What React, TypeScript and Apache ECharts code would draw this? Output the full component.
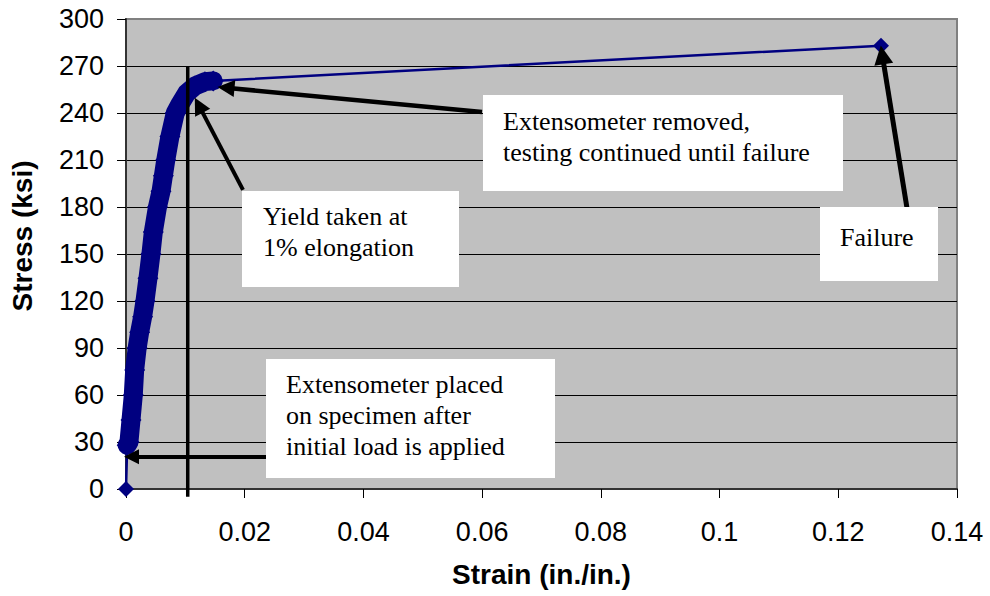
import React, { useEffect, useRef } from "react";
import * as echarts from "echarts";

// Test data: strain (in./in.) and stress (ksi)
const strain = [0, 0.0002, 0.0005, 0.00084, 0.00123, 0.00146, 0.00188, 0.0023, 0.0028, 0.0032, 0.0037, 0.0042, 0.0046, 0.0053, 0.0059, 0.0063, 0.0067, 0.0074, 0.0083, 0.009, 0.0102, 0.0116, 0.0133, 0.0147, 0.1272];
const stress = [0, 28, 30, 44, 60, 76, 90, 100, 110, 120, 134.5, 150, 164, 180, 190, 200, 210, 225, 240, 245, 252.6, 257.2, 260, 260.5, 283];

// Yield line at 1% elongation
const yieldStrain = 0.0104;
const yieldLineStress = [270, -5];

// Axis ticks
const xTicks = [0, 0.02, 0.04, 0.06, 0.08, 0.1, 0.12, 0.14];
const yTicks = [0, 30, 60, 90, 120, 150, 180, 210, 240, 270, 300];

// Annotation arrows in data coords (tail -> head centre)
const arrowFrom = [
  [0.01971, 190.9],
  [0.05998, 240.6],
  [0.13157, 179.4],
  [0.02359, 20.6],
];
const arrowTo = [
  [0.01225, 245.0],
  [0.01685, 256.1],
  [0.12741, 277.1],
  [0.00093, 20.6],
];
const arrowHead = [17, 17, 19, 15];
const arrowWidth = [4, 4.5, 5, 4];

const SANS = '"Liberation Sans", Arial, sans-serif';
const SERIF = '"Liberation Serif", "Times New Roman", serif';

export default function App() {
  const ref = useRef<HTMLDivElement>(null);
  useEffect(() => {
    if (!ref.current) return;
    const chart = echarts.init(ref.current, undefined, { renderer: "svg" });
    const pts = strain.map((s, i) => [s, stress[i]]);
    const band = pts.slice(1, pts.length - 1);
    const markData = arrowFrom.map((f, i) => [
      { coord: f, symbol: "none", lineStyle: { width: arrowWidth[i] } },
      { coord: arrowTo[i], symbol: "triangle", symbolSize: arrowHead[i] },
    ]);
    const textStyleBase = {
      fontFamily: SERIF,
      fontSize: 26,
      lineHeight: 31,
      fill: "#000",
    };
    chart.setOption({
      animation: false,
      grid: {
        left: 126,
        right: 33,
        top: 19,
        bottom: 107,
        show: true,
        backgroundColor: "#c0c0c0",
        borderColor: "#808080",
        borderWidth: 2,
      },
      xAxis: {
        type: "value",
        min: xTicks[0],
        max: xTicks[xTicks.length - 1],
        interval: xTicks[1] - xTicks[0],
        axisLine: { onZero: false, lineStyle: { color: "#333", width: 2 } },
        axisTick: { show: true, length: 9, lineStyle: { color: "#000", width: 1 } },
        axisLabel: { margin: 29, fontSize: 27, color: "#000", fontFamily: SANS },
        splitLine: { show: false },
        name: "Strain (in./in.)",
        nameLocation: "middle",
        nameGap: 71,
        nameTextStyle: { fontWeight: "bold", fontSize: 28, color: "#000", fontFamily: SANS },
      },
      yAxis: {
        type: "value",
        min: yTicks[0],
        max: yTicks[yTicks.length - 1],
        interval: yTicks[1] - yTicks[0],
        axisLine: { show: true, onZero: false, lineStyle: { color: "#333", width: 2 } },
        axisTick: { show: true, length: 9, lineStyle: { color: "#000", width: 1 } },
        axisLabel: { margin: 22, fontSize: 27, color: "#000", fontFamily: SANS },
        splitLine: { show: true, showMinLine: false, showMaxLine: false, lineStyle: { color: "#000", width: 1 } },
        name: "Stress (ksi)",
        nameLocation: "middle",
        nameGap: 90,
        nameRotate: 90,
        nameTextStyle: { fontWeight: "bold", fontSize: 28, color: "#000", fontFamily: SANS, padding: [0, 0, 0, 36] },
      },
      series: [
        {
          type: "line",
          data: band,
          clip: false,
          symbol: "diamond",
          symbolSize: 21,
          showAllSymbol: true,
          itemStyle: { color: "#000080" },
          lineStyle: { color: "#000080", width: 19, join: "round", cap: "round" },
          silent: true,
          z: 2,
        },
        {
          type: "line",
          data: pts,
          clip: false,
          symbol: "diamond",
          symbolSize: 16,
          showAllSymbol: true,
          itemStyle: { color: "#000080" },
          lineStyle: { color: "#000080", width: 2.5 },
          silent: true,
          z: 3,
        },
        {
          type: "line",
          data: yieldLineStress.map((v) => [yieldStrain, v]),
          clip: false,
          symbol: "none",
          lineStyle: { color: "#000", width: 3.5 },
          silent: true,
          z: 4,
          markLine: {
            silent: true,
            animation: false,
            label: { show: false },
            lineStyle: { color: "#000", width: 4, type: "solid" },
            itemStyle: { color: "#000" },
            emphasis: { disabled: true },
            data: markData,
            z: 5,
          },
        },
      ],
      graphic: [
        { type: "rect", shape: { x: 242, y: 191, width: 217, height: 96 }, style: { fill: "#fff" }, z: 10 },
        { type: "text", x: 263, y: 201, style: { ...textStyleBase, text: "Yield taken at\n1% elongation" }, z: 11 },
        { type: "rect", shape: { x: 266, y: 359, width: 289, height: 119 }, style: { fill: "#fff" }, z: 10 },
        { type: "text", x: 286, y: 369, style: { ...textStyleBase, text: "Extensometer placed\non specimen after\ninitial load is applied" }, z: 11 },
        { type: "rect", shape: { x: 483, y: 95, width: 360, height: 96 }, style: { fill: "#fff" }, z: 10 },
        { type: "text", x: 503, y: 106, style: { ...textStyleBase, text: "Extensometer removed,\ntesting continued until failure" }, z: 11 },
        { type: "rect", shape: { x: 820, y: 207, width: 118, height: 74 }, style: { fill: "#fff" }, z: 10 },
        { type: "text", x: 840, y: 222, style: { ...textStyleBase, text: "Failure" }, z: 11 },
      ],
    });
    return () => chart.dispose();
  }, []);
  return <div ref={ref} style={{ width: 990, height: 596, position: "absolute", left: 0, top: 0 }} />;
}
